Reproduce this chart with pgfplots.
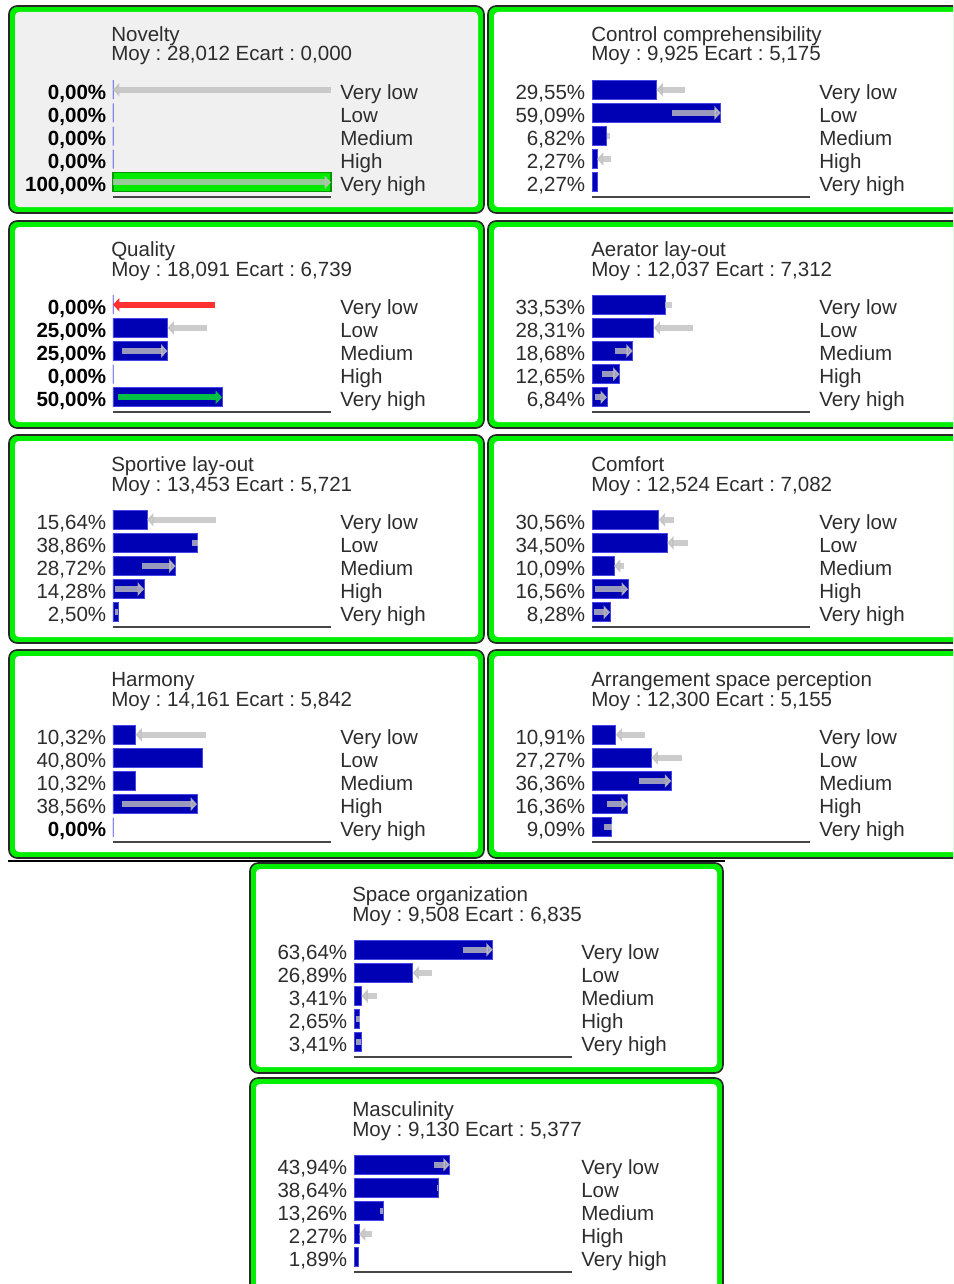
\documentclass[border=0pt]{standalone}
\usepackage{fontspec}
\setmainfont{Liberation Sans}
\usepackage{pgfplots}
\pgfplotsset{compat=1.18}
\usetikzlibrary{arrows.meta}
\frenchspacing

\definecolor{txt}{RGB}{45,45,45}
\definecolor{barblue}{RGB}{0,0,180}
\definecolor{baredge}{RGB}{70,70,230}
\definecolor{framegreen}{RGB}{0,240,0}
\definecolor{frameline}{RGB}{40,40,40}
\definecolor{axgray}{RGB}{70,70,70}
\definecolor{arrgray}{RGB}{192,192,192}
\definecolor{panelgray}{RGB}{240,240,240}
\definecolor{obsgreen}{RGB}{0,235,0}
\definecolor{obsedge}{RGB}{0,150,0}
\definecolor{arrred}{RGB}{255,50,50}
\definecolor{arrgreen}{RGB}{0,190,70}

\newcommand{\lab}{\fontsize{15.4pt}{18pt}\selectfont}

\tikzset{
  catlab/.style={anchor=base west, inner sep=0pt, xshift=6.75pt, yshift=-7.2pt, font=\lab, text=txt},
  ttl/.style={anchor=base west, inner sep=0pt, font=\lab, text=txt},
}
\pgfplotsset{
  bn/.style={
    scale only axis, width=163.5pt, height=89.07pt,
    xmin=0, xmax=100, ymin=0.37, ymax=5.5,
    axis lines*=left,
    axis line style={-},
    y axis line style={draw=none},
    x axis line style={line width=1.5pt, draw=axgray},
    xtick=\empty, ytick={1,2,3,4,5},
    major tick length=0pt,
    yticklabel style={font=\lab, text=txt, anchor=base east, inner sep=0pt, xshift=-4.9pt, yshift=-7.2pt},
    clip=false, anchor=south west,
  },
  bars/.style={xbar, bar width=0.82, bar shift=0pt, fill=barblue, draw=baredge, line width=0.6pt},
  obsbar/.style={xbar, bar width=0.82, bar shift=0pt, fill=obsgreen, draw=obsedge, line width=0.8pt},
  arr/.style={quiver={u=\thisrow{u}, v=0, every arrow/.append style={line width=4.6pt}}, draw=arrgray, opacity=0.8, line width=4.6pt, -{Triangle[length=4.8pt,width=10pt]}},
  stub/.style={quiver={u=\thisrow{u}, v=0, every arrow/.append style={line width=4.6pt}}, draw=arrgray, opacity=0.8, line width=4.6pt, -},
}
\newcommand{\cats}{%
 \node[catlab] at (axis cs:100,5) {Very low};
 \node[catlab] at (axis cs:100,4) {Low};
 \node[catlab] at (axis cs:100,3) {Medium};
 \node[catlab] at (axis cs:100,2) {High};
 \node[catlab] at (axis cs:100,1) {Very high};}
\newcommand{\AT}[2]{at={({#1*0.75pt},{-#2*0.75pt})}}

\begin{document}
\begin{tikzpicture}
\path[use as bounding box, clip] (0pt,0pt) rectangle (714.75pt,-963pt);
\begin{scope}[x=0.75pt,y=-0.75pt]
 \newcommand{\pframe}[5]{%
  \draw[draw=frameline, line width=1.2pt, fill=framegreen, rounded corners=6pt] (#1,#2) rectangle (#3,#4);
  \fill[#5, rounded corners=3pt] (#1+6,#2+6) rectangle (#3-6,#4-6);}
 \pframe{9}{6}{484}{213}{panelgray}
 \pframe{488}{6}{975}{213}{white}
 \pframe{9}{221}{484}{428}{white}
 \pframe{488}{221}{975}{428}{white}
 \pframe{9}{435}{484}{643}{white}
 \pframe{488}{435}{975}{643}{white}
 \pframe{9}{650}{484}{858}{white}
 \pframe{488}{650}{975}{858}{white}
 \draw[line width=1.5pt, black] (8,861) -- (725,861);
 \pframe{250}{863}{723}{1073}{white}
 \pframe{250}{1078}{723}{1300}{white}
 \node[ttl] at (111,41.7) {Novelty};
 \node[ttl] at (111,61.0) {Moy : 28,012 Ecart : 0,000};
 \node[ttl] at (591,41.7) {Control comprehensibility};
 \node[ttl] at (591,61.0) {Moy : 9,925 Ecart : 5,175};
 \node[ttl] at (111,256.7) {Quality};
 \node[ttl] at (111,276.0) {Moy : 18,091 Ecart : 6,739};
 \node[ttl] at (591,256.7) {Aerator lay-out};
 \node[ttl] at (591,276.0) {Moy : 12,037 Ecart : 7,312};
 \node[ttl] at (111,471.7) {Sportive lay-out};
 \node[ttl] at (111,491.0) {Moy : 13,453 Ecart : 5,721};
 \node[ttl] at (591,471.7) {Comfort};
 \node[ttl] at (591,491.0) {Moy : 12,524 Ecart : 7,082};
 \node[ttl] at (111,686.7) {Harmony};
 \node[ttl] at (111,706.0) {Moy : 14,161 Ecart : 5,842};
 \node[ttl] at (591,686.7) {Arrangement space perception};
 \node[ttl] at (591,706.0) {Moy : 12,300 Ecart : 5,155};
 \node[ttl] at (352,901.7) {Space organization};
 \node[ttl] at (352,921.0) {Moy : 9,508 Ecart : 6,835};
 \node[ttl] at (352,1116.7) {Masculinity};
 \node[ttl] at (352,1136.0) {Moy : 9,130 Ecart : 5,377};
\end{scope}

% 1 Novelty
\begin{axis}[bn, \AT{113}{196.9},
  yticklabels={{\textbf{100,00\%}},{\textbf{0,00\%}},{\textbf{0,00\%}},{\textbf{0,00\%}},{\textbf{0,00\%}}},
  yticklabel style={text=black}]
\addplot[bars] table[row sep=\\]{x y\\ 0 5\\ 0 4\\ 0 3\\ 0 2\\};
\addplot[obsbar] table[row sep=\\]{x y\\ 100 1\\};
\addplot[arr] table[row sep=\\]{x y u\\ 100 5 -100\\ 0 1 100\\};
\cats
\end{axis}

% 2 Control comprehensibility
\begin{axis}[bn, \AT{592}{196.9},
  yticklabels={{2,27\%},{2,27\%},{6,82\%},{59,09\%},{29,55\%}}]
\addplot[bars] table[row sep=\\]{x y\\ 29.55 5\\ 59.09 4\\ 6.82 3\\ 2.27 2\\ 2.27 1\\};
\addplot[arr] table[row sep=\\]{x y u\\ 42.7 5 -13.15\\ 36.6 4 22.49\\ 8.6 2 -6.33\\};
\addplot[stub] table[row sep=\\]{x y u\\ 8.2 3 -1.38\\};
\cats
\end{axis}

% 3 Quality
\begin{axis}[bn, \AT{113}{411.9},
  yticklabels={{\textbf{50,00\%}},{\textbf{0,00\%}},{\textbf{25,00\%}},{\textbf{25,00\%}},{\textbf{0,00\%}}},
  yticklabel style={text=black}]
\addplot[bars] table[row sep=\\]{x y\\ 0 5\\ 25 4\\ 25 3\\ 0 2\\ 50 1\\};
\addplot[arr, draw=arrred, opacity=1] table[row sep=\\]{x y u\\ 47 5 -47\\};
\addplot[arr] table[row sep=\\]{x y u\\ 43 4 -18\\ 4 3 21\\};
\addplot[arr, draw=arrgreen, opacity=1] table[row sep=\\]{x y u\\ 2.4 1 47.6\\};
\cats
\end{axis}

% 4 Aerator lay-out
\begin{axis}[bn, \AT{592}{411.9},
  yticklabels={{6,84\%},{12,65\%},{18,68\%},{28,31\%},{33,53\%}}]
\addplot[bars] table[row sep=\\]{x y\\ 33.53 5\\ 28.31 4\\ 18.68 3\\ 12.65 2\\ 6.84 1\\};
\addplot[arr] table[row sep=\\]{x y u\\ 46.2 4 -17.89\\ 10.6 3 8.08\\ 4.4 2 8.25\\ 1.2 1 5.64\\};
\addplot[stub] table[row sep=\\]{x y u\\ 36.5 5 -2.97\\};
\cats
\end{axis}

% 5 Sportive lay-out
\begin{axis}[bn, \AT{113}{626.9},
  yticklabels={{2,50\%},{14,28\%},{28,72\%},{38,86\%},{15,64\%}}]
\addplot[bars] table[row sep=\\]{x y\\ 15.64 5\\ 38.86 4\\ 28.72 3\\ 14.28 2\\ 2.50 1\\};
\addplot[arr] table[row sep=\\]{x y u\\ 47.3 5 -31.66\\ 13.3 3 15.42\\ 1.0 2 13.28\\};
\addplot[stub] table[row sep=\\]{x y u\\ 36.2 4 2.66\\ 1.0 1 1.5\\};
\cats
\end{axis}

% 6 Comfort
\begin{axis}[bn, \AT{592}{626.9},
  yticklabels={{8,28\%},{16,56\%},{10,09\%},{34,50\%},{30,56\%}}]
\addplot[bars] table[row sep=\\]{x y\\ 30.56 5\\ 34.50 4\\ 10.09 3\\ 16.56 2\\ 8.28 1\\};
\addplot[arr] table[row sep=\\]{x y u\\ 37.4 5 -6.84\\ 43.9 4 -9.4\\ 14.8 3 -4.71\\ 1.5 2 15.06\\ 1.0 1 7.28\\};
\cats
\end{axis}

% 7 Harmony
\begin{axis}[bn, \AT{113}{841.9},
  yticklabels={{\textcolor{black}{\textbf{0,00\%}}},{38,56\%},{10,32\%},{40,80\%},{10,32\%}}]
\addplot[bars] table[row sep=\\]{x y\\ 10.32 5\\ 40.80 4\\ 10.32 3\\ 38.56 2\\ 0 1\\};
\addplot[arr] table[row sep=\\]{x y u\\ 42.8 5 -32.48\\ 4 2 34.56\\};
\cats
\end{axis}

% 8 Arrangement space perception
\begin{axis}[bn, \AT{592}{841.9},
  yticklabels={{9,09\%},{16,36\%},{36,36\%},{27,27\%},{10,91\%}}]
\addplot[bars] table[row sep=\\]{x y\\ 10.91 5\\ 27.27 4\\ 36.36 3\\ 16.36 2\\ 9.09 1\\};
\addplot[arr] table[row sep=\\]{x y u\\ 24.1 5 -13.19\\ 41.2 4 -13.93\\ 21.4 3 14.96\\ 6.9 2 9.46\\};
\addplot[stub] table[row sep=\\]{x y u\\ 5.5 1 3.59\\};
\cats
\end{axis}

% 9 Space organization
\begin{axis}[bn, \AT{354}{1056.9},
  yticklabels={{3,41\%},{2,65\%},{3,41\%},{26,89\%},{63,64\%}}]
\addplot[bars] table[row sep=\\]{x y\\ 63.64 5\\ 26.89 4\\ 3.41 3\\ 2.65 2\\ 3.41 1\\};
\addplot[arr] table[row sep=\\]{x y u\\ 49.9 5 13.74\\ 35.6 4 -8.71\\ 10.4 3 -6.99\\};
\addplot[stub] table[row sep=\\]{x y u\\ 1.0 2 1.65\\ 1.0 1 2.41\\};
\cats
\end{axis}

% 10 Masculinity
\begin{axis}[bn, \AT{354}{1271.9},
  yticklabels={{1,89\%},{2,27\%},{13,26\%},{38,64\%},{43,94\%}}]
\addplot[bars] table[row sep=\\]{x y\\ 43.94 5\\ 38.64 4\\ 13.26 3\\ 2.27 2\\ 1.89 1\\};
\addplot[arr] table[row sep=\\]{x y u\\ 36.7 5 7.24\\ 8.1 2 -5.83\\};
\addplot[stub] table[row sep=\\]{x y u\\ 38.0 4 0.64\\ 12.0 3 1.26\\};
\cats
\end{axis}
\end{tikzpicture}
\end{document}
